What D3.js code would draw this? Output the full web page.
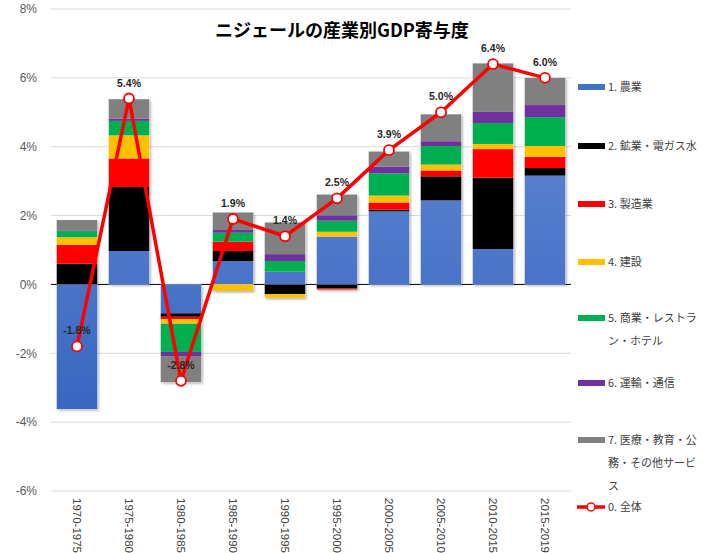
<!DOCTYPE html>
<html lang="ja">
<head>
<meta charset="utf-8">
<title>ニジェールの産業別GDP寄与度</title>
<script src="https://d3js.org/d3.v7.min.js"></script>
<style>
body { margin: 0; background: #fff; }
text { font-family: "Liberation Sans", "Noto Sans CJK JP", sans-serif; }
.cjk { font-family: "Noto Sans CJK JP", sans-serif; }
</style>
</head>
<body>
<div id="chart"></div>
<script>
// data (contribution to GDP growth, % points)
var periods = ["1970-1975","1975-1980","1980-1985","1985-1990","1990-1995","1995-2000","2000-2005","2005-2010","2010-2015","2015-2019"];
var agri      = [-3.62, 0.97, -0.84, 0.68, 0.37, 1.39, 2.12, 2.44, 1.03, 3.16];
var mining    = [ 0.60, 1.86, -0.10, 0.29, -0.28, -0.12, 0.05, 0.70, 2.07, 0.22];
var manuf     = [ 0.55, 0.83, -0.07, 0.27, 0.00, -0.03, 0.21, 0.17, 0.83, 0.33];
var constr    = [ 0.22, 0.67, -0.13, -0.19, -0.11, 0.14, 0.20, 0.17, 0.15, 0.31];
var commerce  = [ 0.18, 0.42, -0.82, 0.26, 0.31, 0.32, 0.65, 0.54, 0.61, 0.84];
var transport = [ 0.02, 0.07, -0.12, 0.08, 0.20, 0.16, 0.19, 0.14, 0.32, 0.35];
var services  = [ 0.30, 0.56, -0.76, 0.51, 0.92, 0.60, 0.44, 0.78, 1.41, 0.79];
var total     = [-1.8, 5.4, -2.8, 1.9, 1.4, 2.5, 3.9, 5.0, 6.4, 6.0];
var yTicks    = [-6, -4, -2, 0, 2, 4, 6, 8];

var seriesNames = [
  ["1. 農業"],
  ["2. 鉱業・電ガス水"],
  ["3. 製造業"],
  ["4. 建設"],
  ["5. 商業・レストラ", "ン・ホテル"],
  ["6. 運輸・通信"],
  ["7. 医療・教育・公", "務・その他サービ", "ス"]
];
var totalName = "0. 全体";
var colors = ["url(#blueGrad)", "#000000", "#ff0000", "#ffc000", "#00b050", "#7030a0", "#808080"];
var legendColors = ["#4472c4", "#000000", "#ff0000", "#ffc000", "#00b050", "#7030a0", "#808080"];

var w = 709, h = 553;
var svg = d3.select("#chart").append("svg").attr("width", w).attr("height", h);

var defs = svg.append("defs");
var grad = defs.append("linearGradient").attr("id", "blueGrad")
  .attr("gradientUnits", "userSpaceOnUse").attr("x1", 0).attr("x2", 0).attr("y1", 9).attr("y2", 491);
grad.append("stop").attr("offset", "0%").attr("stop-color", "#6a8fd6");
grad.append("stop").attr("offset", "100%").attr("stop-color", "#2f5fbc");
var shadow = defs.append("filter").attr("id", "shadow").attr("x", "-10%").attr("y", "-10%").attr("width", "130%").attr("height", "130%");
shadow.append("feDropShadow").attr("dx", 1.5).attr("dy", 1.5).attr("stdDeviation", 1.2).attr("flood-color", "#000").attr("flood-opacity", 0.3);

var x = d3.scaleBand().domain(periods).range([51, 571]).paddingInner(0.22).paddingOuter(0.11);
var y = d3.scaleLinear().domain([-6, 8]).range([491, 9]);

// grid
svg.append("g").selectAll("line").data(yTicks).enter().append("line")
  .attr("x1", 51).attr("x2", 571)
  .attr("y1", function(d) { return y(d); }).attr("y2", function(d) { return y(d); })
  .attr("stroke", function(d) { return d === 0 ? "#000" : "#d9d9d9"; })
  .attr("stroke-width", 1);

// y axis labels
var yAxis = d3.axisLeft(y).tickValues(yTicks).tickFormat(function(d) { return d + "%"; }).tickSize(0).tickPadding(14);
var ya = svg.append("g").attr("transform", "translate(51,0)").call(yAxis);
ya.select(".domain").remove();
ya.selectAll("text").attr("font-size", 12).attr("fill", "#595959").attr("font-family", "Liberation Sans, sans-serif");

// stacked bars
var rows = periods.map(function(p, i) {
  return {period: p, s0: agri[i], s1: mining[i], s2: manuf[i], s3: constr[i], s4: commerce[i], s5: transport[i], s6: services[i]};
});
var keys = ["s0","s1","s2","s3","s4","s5","s6"];
var stack = d3.stack().keys(keys).offset(d3.stackOffsetDiverging)(rows);

var barsG = svg.append("g");
// shadow layer
barsG.selectAll("rect.sh").data(rows).enter().append("rect")
  .attr("x", function(d) { return x(d.period); })
  .attr("width", x.bandwidth())
  .attr("y", function(d) {
    var pos = keys.reduce(function(a, k) { return a + Math.max(0, d[k]); }, 0);
    return y(pos);
  })
  .attr("height", function(d) {
    var pos = keys.reduce(function(a, k) { return a + Math.max(0, d[k]); }, 0);
    var neg = keys.reduce(function(a, k) { return a + Math.min(0, d[k]); }, 0);
    return y(neg) - y(pos);
  })
  .attr("fill", "#fff").attr("filter", "url(#shadow)");

barsG.selectAll("g.layer").data(stack).enter().append("g")
  .attr("fill", function(d, i) { return colors[i]; })
  .selectAll("rect").data(function(d) { return d; }).enter().append("rect")
  .attr("x", function(d) { return x(d.data.period); })
  .attr("width", x.bandwidth())
  .attr("y", function(d) { return y(Math.max(d[0], d[1])); })
  .attr("height", function(d) { return Math.abs(y(d[0]) - y(d[1])); });

// total line
var line = d3.line()
  .x(function(d, i) { return x(periods[i]) + x.bandwidth() / 2; })
  .y(function(d) { return y(d); });
svg.append("path").datum(total).attr("d", line)
  .attr("fill", "none").attr("stroke", "#ff0000").attr("stroke-width", 3.5).attr("stroke-linejoin", "round");
svg.append("g").selectAll("circle").data(total).enter().append("circle")
  .attr("cx", function(d, i) { return x(periods[i]) + x.bandwidth() / 2; })
  .attr("cy", function(d) { return y(d); })
  .attr("r", 5).attr("fill", "#fff").attr("stroke", "#ff0000").attr("stroke-width", 1.8);
svg.append("g").selectAll("text").data(total).enter().append("text")
  .attr("x", function(d, i) { return x(periods[i]) + x.bandwidth() / 2; })
  .attr("y", function(d) { return y(d) - 12; })
  .attr("text-anchor", "middle")
  .attr("font-size", 10.5).attr("font-weight", "bold").attr("fill", "#262626")
  .text(function(d) { return d.toFixed(1) + "%"; });

// x axis labels (rotated)
svg.append("g").selectAll("text").data(periods).enter().append("text")
  .attr("transform", function(d) { return "translate(" + (x(d) + x.bandwidth() / 2 - 4) + ",498) rotate(90)"; })
  .attr("font-size", 11.5).attr("fill", "#404040")
  .text(function(d) { return d; });

// title
svg.append("text").attr("class", "cjk")
  .attr("x", 342).attr("y", 37).attr("text-anchor", "middle")
  .attr("font-size", 18).attr("font-weight", "bold").attr("fill", "#000")
  .text("ニジェールの産業別GDP寄与度");

// legend
var legendY = [87, 146, 204, 262, 318, 383, 440];
var lg = svg.append("g");
seriesNames.forEach(function(lines, i) {
  lg.append("rect").attr("x", 578).attr("y", legendY[i] - 3).attr("width", 27).attr("height", 6)
    .attr("fill", legendColors[i]);
  lines.forEach(function(t, j) {
    lg.append("text").attr("class", "cjk")
      .attr("x", 608).attr("y", legendY[i] + 4 + j * 23)
      .attr("font-size", 11).attr("fill", "#404040").text(t);
  });
});
lg.append("line").attr("x1", 577).attr("x2", 605).attr("y1", 507).attr("y2", 507)
  .attr("stroke", "#ff0000").attr("stroke-width", 3.5);
lg.append("circle").attr("cx", 591).attr("cy", 507).attr("r", 4).attr("fill", "#fff")
  .attr("stroke", "#ff0000").attr("stroke-width", 1.5);
lg.append("text").attr("class", "cjk").attr("x", 608).attr("y", 511)
  .attr("font-size", 11).attr("fill", "#404040").text(totalName);
</script>
</body>
</html>
